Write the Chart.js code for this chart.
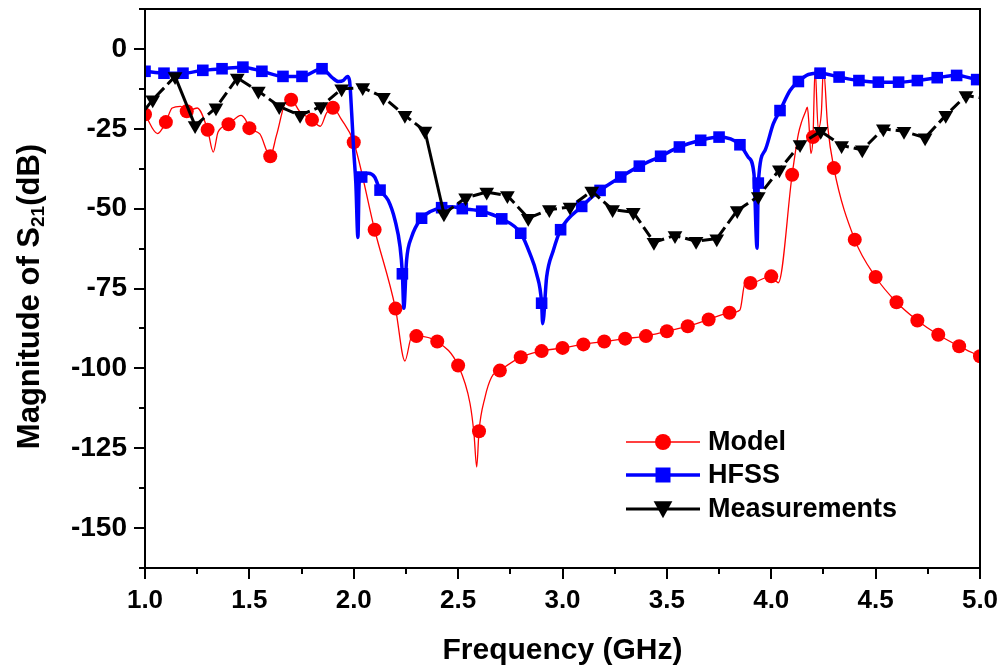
<!DOCTYPE html>
<html>
<head>
<meta charset="utf-8">
<title>Magnitude of S21</title>
<script src="https://cdn.jsdelivr.net/npm/chart.js@4.4.1/dist/chart.umd.min.js"></script>
<style>
    html, body { margin: 0; padding: 0; background: #fff; }
    #wrap { width: 1005px; height: 671px; }
</style>
</head>
<body>
<div id="wrap"><canvas id="s21Chart" width="1005" height="671"></canvas></div>
<script>
// Model (red circles): marker points, plus curve samples read between markers
const modelFreq = [1.0, 1.1, 1.2, 1.3, 1.4, 1.5, 1.6, 1.7, 1.8, 1.9,
                   2.0, 2.1, 2.2, 2.3, 2.4, 2.5, 2.6, 2.7, 2.8, 2.9,
                   3.0, 3.1, 3.2, 3.3, 3.4, 3.5, 3.6, 3.7, 3.8, 3.9,
                   4.0, 4.1, 4.2, 4.3, 4.4, 4.5, 4.6, 4.7, 4.8, 4.9, 5.0];
const modelDb = [-20.5, -22.9, -19.5, -25.3, -23.6, -24.8, -33.6, -15.9, -22.2, -18.4,
                 -29.2, -56.6, -81.3, -89.9, -91.6, -99.1, -119.7, -100.7, -96.5, -94.6,
                 -93.6, -92.5, -91.6, -90.7, -89.9, -88.4, -86.8, -84.7, -82.6, -73.3,
                 -71.2, -39.4, -27.6, -37.3, -59.7, -71.4, -79.3, -85.0, -89.5, -93.1, -96.2];
const modelBetweenFreq = [1.06, 1.13, 1.17, 1.25, 1.327, 1.35, 1.46, 1.48, 1.55, 1.63, 1.68, 1.74, 1.84, 1.87, 1.94,
                          2.245, 2.277, 2.557, 2.576, 2.589, 2.629, 2.66, 3.85, 3.874,
                          4.034, 4.13, 4.145, 4.165, 4.173, 4.18, 4.19, 4.21, 4.225, 4.24, 4.25, 4.27];
const modelBetweenDb = [-26.5, -18.5, -18, -18.5, -32.3, -26, -20.8, -22, -26.6, -27, -16, -19.5, -24.2, -20, -22,
                        -97.7, -90.2, -111, -120.5, -130.9, -109, -102.8, -81.7, -73.5,
                        -73.2, -26.6, -22.9, -19.5, -18.2, -22.9, -32.7, -6, -25, -20, -6, -24];

// HFSS (blue squares)
const hfssFreq = [1.00, 1.091, 1.182, 1.277, 1.369, 1.469, 1.56, 1.661, 1.752, 1.848,
                  2.038, 2.126, 2.233, 2.325, 2.421, 2.52, 2.613, 2.709, 2.80, 2.90, 2.991,
                  3.092, 3.18, 3.279, 3.368, 3.47, 3.56, 3.662, 3.75, 3.85, 3.938,
                  4.042, 4.13, 4.234, 4.325, 4.42, 4.513, 4.61, 4.70, 4.795, 4.888, 4.984];
const hfssDb = [-7.0, -7.6, -7.6, -6.7, -6.2, -5.7, -7.0, -8.6, -8.6, -6.2,
                -40.1, -44.2, -70.4, -53.0, -49.7, -50.0, -50.8, -53.2, -57.7, -79.6, -56.6,
                -49.3, -44.3, -40.1, -36.7, -33.6, -30.7, -28.6, -27.6, -30.0, -42.0,
                -19.3, -10.2, -7.6, -8.8, -9.9, -10.4, -10.4, -9.9, -9.0, -8.3, -9.6];
const hfssBetweenFreq = [1.894, 1.926, 1.95, 1.97, 1.98, 1.99, 2.00, 2.01, 2.02, 2.026, 2.07, 2.10,
                         2.165, 2.198, 2.222, 2.24, 2.253, 2.277, 2.37, 2.47,
                         2.844, 2.876, 2.905, 2.924, 2.956, 3.89, 3.917, 3.932, 3.97, 4.01, 4.09, 4.178, 5.0];
const hfssBetweenDb = [-8.8, -10.2, -9.9, -8.6, -10, -20, -32, -42, -59, -42, -38.9, -40.1,
                       -47.4, -53.7, -62, -81.2, -66.2, -58.9, -50.8, -49.4,
                       -64.1, -70.4, -86, -71.4, -63.1, -33.9, -39, -62.4, -31.8, -23.4, -13, -8.0, -9.8];

// Measurements (black triangles)
const measFreq = [1.037, 1.144, 1.24, 1.34, 1.442, 1.543, 1.643, 1.743, 1.843, 1.942,
                  2.043, 2.142, 2.245, 2.341, 2.432, 2.536, 2.637, 2.736, 2.836, 2.937,
                  3.036, 3.14, 3.24, 3.339, 3.438, 3.539, 3.64, 3.739, 3.837, 3.938,
                  4.039, 4.138, 4.237, 4.337, 4.436, 4.537, 4.636, 4.737, 4.836, 4.933];
const measDb = [-15.9, -8.6, -24.0, -18.4, -9.1, -13.2, -18.0, -20.8, -18.0, -12.5,
                -12.1, -15.1, -20.8, -25.7, -51.6, -46.6, -44.8, -45.9, -53.0, -50.3,
                -49.5, -44.5, -50.3, -51.1, -60.5, -58.4, -60.2, -59.4, -50.6, -46.2,
                -37.8, -29.9, -25.8, -30.2, -31.6, -25.0, -25.8, -27.8, -20.8, -14.6];
const measEndFreq = [1.0, 5.0];
const measEndDb = [-19, -15.3];

// axes
const xMin = 1.0, xMax = 5.0, xStep = 0.25;
const yMin = -162.5, yMax = 12.5, yStep = 12.5;
const xTitle = 'Frequency (GHz)';
const yTitleParts = ['Magnitude of S', '21', '(dB)'];
const legendNames = ['Model', 'HFSS', 'Measurements'];

const FONT = 'Arial, "Liberation Sans", sans-serif';

function toPoints(xs, ys) {
    return xs.map((x, i) => ({ x: x, y: ys[i] }));
}

function curvePoints(mf, md, bf, bd) {
    return toPoints(mf, md).concat(toPoints(bf, bd)).sort((a, b) => a.x - b.x);
}

function drawMarker(ctx, style, x, y, r, color) {
    ctx.fillStyle = color;
    ctx.beginPath();
    if (style === 'circle') {
        ctx.arc(x, y, r, 0, Math.PI * 2);
    } else if (style === 'rect') {
        ctx.rect(x - r, y - r, 2 * r, 2 * r);
    } else {
        ctx.moveTo(x - r * 1.1, y - r * 0.9);
        ctx.lineTo(x + r * 1.1, y - r * 0.9);
        ctx.lineTo(x, y + r * 1.1);
        ctx.closePath();
    }
    ctx.fill();
}

// keep the plot box where the reference has it: no extra room for edge labels
function fixSize(size) {
    return scale => {
        if (scale.isHorizontal()) scale.height = size;
        else scale.width = size;
        scale.paddingTop = 0;
        scale.paddingBottom = 0;
        scale.paddingLeft = 0;
        scale.paddingRight = 0;
    };
}

const framePlugin = {
    id: 'framePlugin',
    afterDraw(chart) {
        const ctx = chart.ctx;
        const area = chart.chartArea;
        const xs = chart.scales.x, ys = chart.scales.y;
        ctx.save();
        ctx.strokeStyle = '#000';
        ctx.lineWidth = 2;
        ctx.strokeRect(area.left, area.top, area.right - area.left, area.bottom - area.top);

        // outward ticks, major and minor
        ctx.beginPath();
        for (let v = xMin; v <= xMax + 1e-9; v += xStep) {
            const px = Math.round(xs.getPixelForValue(v));
            const major = Math.abs(v * 2 - Math.round(v * 2)) < 1e-6;
            ctx.moveTo(px, area.bottom);
            ctx.lineTo(px, area.bottom + (major ? 11 : 6));
        }
        for (let v = yMin; v <= yMax + 1e-9; v += yStep) {
            const py = Math.round(ys.getPixelForValue(v));
            const major = Math.abs(v % 25) < 1e-6;
            ctx.moveTo(area.left, py);
            ctx.lineTo(area.left - (major ? 11 : 6), py);
        }
        ctx.stroke();

        // axis titles
        ctx.fillStyle = '#000';
        ctx.font = 'bold 30px ' + FONT;
        ctx.textAlign = 'center';
        ctx.textBaseline = 'middle';
        ctx.fillText(xTitle, (area.left + area.right) / 2, 651);

        ctx.translate(30, (area.top + area.bottom) / 2 + 8);
        ctx.rotate(-Math.PI / 2);
        ctx.textAlign = 'left';
        const mainFont = 'bold 31px ' + FONT, subFont = 'bold 19px ' + FONT;
        ctx.font = mainFont;
        const w0 = ctx.measureText(yTitleParts[0]).width;
        const w2 = ctx.measureText(yTitleParts[2]).width;
        ctx.font = subFont;
        const w1 = ctx.measureText(yTitleParts[1]).width;
        let tx = -(w0 + w1 + w2) / 2;
        ctx.font = mainFont;
        ctx.fillText(yTitleParts[0], tx, 0);
        tx += w0;
        ctx.font = subFont;
        ctx.fillText(yTitleParts[1], tx, 9);
        tx += w1;
        ctx.font = mainFont;
        ctx.fillText(yTitleParts[2], tx, 0);
        ctx.restore();

        // legend
        const items = [
            { color: '#ff0000', width: 1.5, style: 'circle', r: 8 },
            { color: '#0000ff', width: 3.5, style: 'rect', r: 7.5 },
            { color: '#000000', width: 3, style: 'triangle', r: 8.5 }
        ];
        const rows = [442, 475, 509];
        ctx.save();
        items.forEach((it, i) => {
            const y = rows[i];
            ctx.strokeStyle = it.color;
            ctx.lineWidth = it.width;
            ctx.beginPath();
            ctx.moveTo(626, y);
            ctx.lineTo(700, y);
            ctx.stroke();
            drawMarker(ctx, it.style, 663, y, it.r, it.color);
            ctx.fillStyle = '#000';
            ctx.font = 'bold 27px ' + FONT;
            ctx.textAlign = 'left';
            ctx.textBaseline = 'middle';
            ctx.fillText(legendNames[i], 708, y + 1);
        });
        ctx.restore();
    }
};

function buildChart() {
    const canvas = document.getElementById('s21Chart');

    new Chart(canvas.getContext('2d'), {
        type: 'line',
        data: {
            datasets: [
                {
                    label: 'Measurements markers',
                    data: toPoints(measFreq, measDb),
                    showLine: false,
                    pointStyle: 'triangle',
                    rotation: 180,
                    pointRadius: 8.5,
                    backgroundColor: '#000',
                    borderColor: '#000',
                    borderWidth: 0,
                    order: 0
                },
                {
                    label: 'Measurements',
                    data: curvePoints(measFreq, measDb, measEndFreq, measEndDb),
                    borderColor: '#000',
                    borderWidth: 3,
                    borderDash: [12, 5],
                    pointRadius: 0,
                    tension: 0,
                    segment: {
                        borderDash: ctx => Math.abs(ctx.p1.y - ctx.p0.y) > 40 ? [] : undefined
                    },
                    order: 1
                },
                {
                    label: 'HFSS markers',
                    data: toPoints(hfssFreq, hfssDb),
                    showLine: false,
                    pointStyle: 'rect',
                    pointRadius: 8.2,
                    backgroundColor: '#0000ff',
                    borderColor: '#0000ff',
                    borderWidth: 0,
                    order: 2
                },
                {
                    label: 'HFSS',
                    data: curvePoints(hfssFreq, hfssDb, hfssBetweenFreq, hfssBetweenDb),
                    borderColor: '#0000ff',
                    borderWidth: 3.5,
                    pointRadius: 0,
                    cubicInterpolationMode: 'monotone',
                    order: 3
                },
                {
                    label: 'Model markers',
                    data: toPoints(modelFreq, modelDb),
                    showLine: false,
                    pointStyle: 'circle',
                    pointRadius: 7,
                    backgroundColor: '#ff0000',
                    borderColor: '#ff0000',
                    borderWidth: 0,
                    order: 4
                },
                {
                    label: 'Model',
                    data: curvePoints(modelFreq, modelDb, modelBetweenFreq, modelBetweenDb),
                    borderColor: '#ff0000',
                    borderWidth: 1.3,
                    pointRadius: 0,
                    cubicInterpolationMode: 'monotone',
                    order: 5
                }
            ]
        },
        options: {
            responsive: false,
            animation: false,
            layout: { padding: { left: 0, top: 9, right: 25, bottom: 0 } },
            plugins: {
                legend: { display: false },
                tooltip: { enabled: false }
            },
            scales: {
                x: {
                    type: 'linear',
                    min: xMin,
                    max: xMax,
                    grid: { display: false, drawTicks: false },
                    border: { display: false },
                    ticks: {
                        stepSize: xStep,
                        autoSkip: false,
                        maxRotation: 0,
                        padding: 17,
                        color: '#000',
                        font: { family: FONT, size: 26, weight: 'bold' },
                        callback: v => Math.abs(v * 2 - Math.round(v * 2)) < 1e-6 ? v.toFixed(1) : ''
                    },
                    afterFit: fixSize(103)
                },
                y: {
                    type: 'linear',
                    min: yMin,
                    max: yMax,
                    grid: { display: false, drawTicks: false },
                    border: { display: false },
                    ticks: {
                        stepSize: yStep,
                        autoSkip: false,
                        padding: 18,
                        color: '#000',
                        font: { family: FONT, size: 28, weight: 'bold' },
                        callback: v => Math.abs(v % 25) < 1e-6 ? String(v) : ''
                    },
                    afterFit: fixSize(145)
                }
            }
        },
        plugins: [framePlugin]
    });
}

document.addEventListener('DOMContentLoaded', buildChart);
</script>
</body>
</html>
